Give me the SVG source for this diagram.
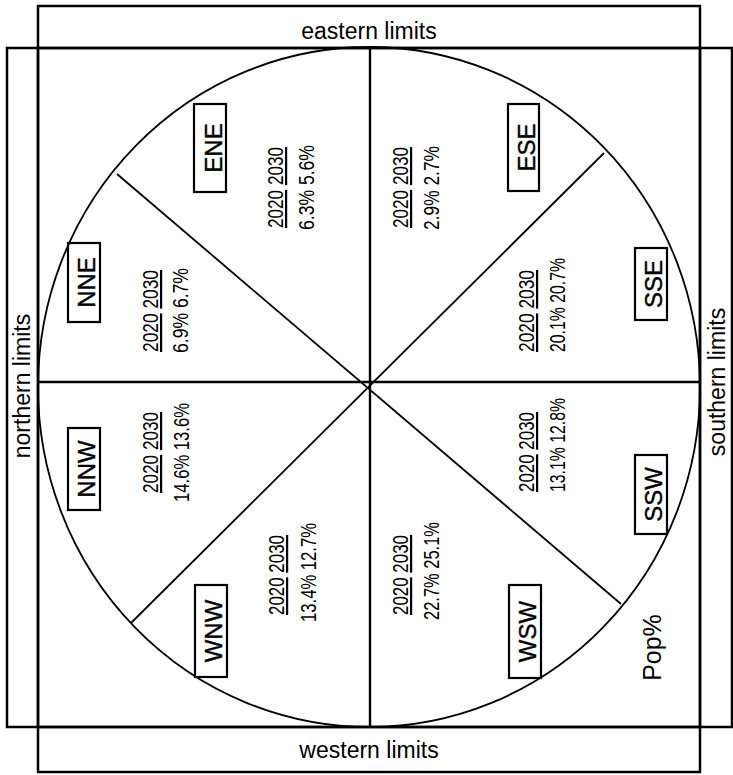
<svg xmlns="http://www.w3.org/2000/svg" width="733" height="775" viewBox="0 0 733 775">
<style>
.frame{fill:none;stroke:#000;stroke-width:2.5}
.ln{fill:none;stroke:#000;stroke-width:1.8}
.ax{fill:none;stroke:#000;stroke-width:2.4}
.lbl{fill:none;stroke:#000;stroke-width:2.2}
text{font-family:"Liberation Sans",Arial,sans-serif;fill:#000}
.big{font-size:23px}
.dir{font-size:24px;text-anchor:middle;stroke:#000;stroke-width:0.4}
.num{font-size:22px}
.u{text-decoration:underline}
</style>
<rect width="733" height="775" fill="#fff"/>
<g id="frame">
<rect class="frame" x="38" y="6" width="662" height="42"/>
<rect class="frame" x="7" y="48" width="31" height="679"/>
<rect class="frame" x="700" y="48" width="32" height="679"/>
<rect class="frame" x="38" y="727" width="662" height="45"/>
<rect class="frame" x="38" y="48" width="662" height="679"/>
<text class="big" x="369" y="39" text-anchor="middle">eastern limits</text>
<text class="big" x="369" y="758" text-anchor="middle">western limits</text>
<text class="big" text-anchor="middle" transform="translate(30,386) rotate(-90)">northern limits</text>
<text class="big" text-anchor="middle" transform="translate(725,382) rotate(-90)">southern limits</text>
</g>
<g id="connectors">
<ellipse class="ln" cx="369" cy="387" rx="331" ry="340"/>
<line class="ax" x1="370" y1="48" x2="370" y2="727"/>
<line class="ax" x1="38" y1="382" x2="700" y2="382"/>
<line class="ln" x1="117" y1="174" x2="621" y2="604"/>
<line class="ln" x1="604" y1="153" x2="131" y2="623"/>
</g>
<g id="ENE">
<rect class="lbl" x="194" y="104" width="32" height="88"/>
<text class="dir" transform="translate(222,148) rotate(-90)">ENE</text>
<text class="num" transform="translate(283,228) rotate(-90)" textLength="81" lengthAdjust="spacingAndGlyphs"><tspan class="u">2020</tspan> <tspan class="u">2030</tspan></text>
<text class="num" transform="translate(314,230) rotate(-90)" textLength="85" lengthAdjust="spacingAndGlyphs">6.3% 5.6%</text>
</g>
<g id="ESE">
<rect class="lbl" x="508" y="104" width="31" height="87"/>
<text class="dir" transform="translate(535,147.5) rotate(-90)">ESE</text>
<text class="num" transform="translate(408,228) rotate(-90)" textLength="81" lengthAdjust="spacingAndGlyphs"><tspan class="u">2020</tspan> <tspan class="u">2030</tspan></text>
<text class="num" transform="translate(439,230) rotate(-90)" textLength="84" lengthAdjust="spacingAndGlyphs">2.9% 2.7%</text>
</g>
<g id="SSE">
<rect class="lbl" x="635" y="248" width="32" height="72"/>
<text class="dir" transform="translate(662,284) rotate(-90)">SSE</text>
<text class="num" transform="translate(534,352) rotate(-90)" textLength="82" lengthAdjust="spacingAndGlyphs"><tspan class="u">2020</tspan> <tspan class="u">2030</tspan></text>
<text class="num" transform="translate(565,352) rotate(-90)" textLength="94" lengthAdjust="spacingAndGlyphs">20.1% 20.7%</text>
</g>
<g id="NNE">
<rect class="lbl" x="68" y="243" width="32" height="79"/>
<text class="dir" transform="translate(95,282.5) rotate(-90)">NNE</text>
<text class="num" transform="translate(158,352) rotate(-90)" textLength="82" lengthAdjust="spacingAndGlyphs"><tspan class="u">2020</tspan> <tspan class="u">2030</tspan></text>
<text class="num" transform="translate(188,353) rotate(-90)" textLength="85" lengthAdjust="spacingAndGlyphs">6.9% 6.7%</text>
</g>
<g id="NNW">
<rect class="lbl" x="68" y="428" width="32" height="82"/>
<text class="dir" transform="translate(95,469) rotate(-90)">NNW</text>
<text class="num" transform="translate(158,493) rotate(-90)" textLength="81" lengthAdjust="spacingAndGlyphs"><tspan class="u">2020</tspan> <tspan class="u">2030</tspan></text>
<text class="num" transform="translate(189,502) rotate(-90)" textLength="99" lengthAdjust="spacingAndGlyphs">14.6% 13.6%</text>
</g>
<g id="SSW">
<rect class="lbl" x="635" y="455" width="32" height="79"/>
<text class="dir" transform="translate(662,494.5) rotate(-90)">SSW</text>
<text class="num" transform="translate(534,492) rotate(-90)" textLength="80" lengthAdjust="spacingAndGlyphs"><tspan class="u">2020</tspan> <tspan class="u">2030</tspan></text>
<text class="num" transform="translate(565,492) rotate(-90)" textLength="94" lengthAdjust="spacingAndGlyphs">13.1% 12.8%</text>
</g>
<g id="WNW">
<rect class="lbl" x="195" y="585" width="32" height="92"/>
<text class="dir" transform="translate(222,631) rotate(-90)">WNW</text>
<text class="num" transform="translate(284,615) rotate(-90)" textLength="80" lengthAdjust="spacingAndGlyphs"><tspan class="u">2020</tspan> <tspan class="u">2030</tspan></text>
<text class="num" transform="translate(316,622) rotate(-90)" textLength="99" lengthAdjust="spacingAndGlyphs">13.4% 12.7%</text>
</g>
<g id="WSW">
<rect class="lbl" x="509" y="585" width="32" height="93"/>
<text class="dir" transform="translate(536,631.5) rotate(-90)">WSW</text>
<text class="num" transform="translate(408,615) rotate(-90)" textLength="80" lengthAdjust="spacingAndGlyphs"><tspan class="u">2020</tspan> <tspan class="u">2030</tspan></text>
<text class="num" transform="translate(439,620) rotate(-90)" textLength="98" lengthAdjust="spacingAndGlyphs">22.7% 25.1%</text>
</g>
<g id="pop">
<text transform="translate(661,647.5) rotate(-90)" font-size="25" text-anchor="middle">Pop%</text>
</g>
</svg>
